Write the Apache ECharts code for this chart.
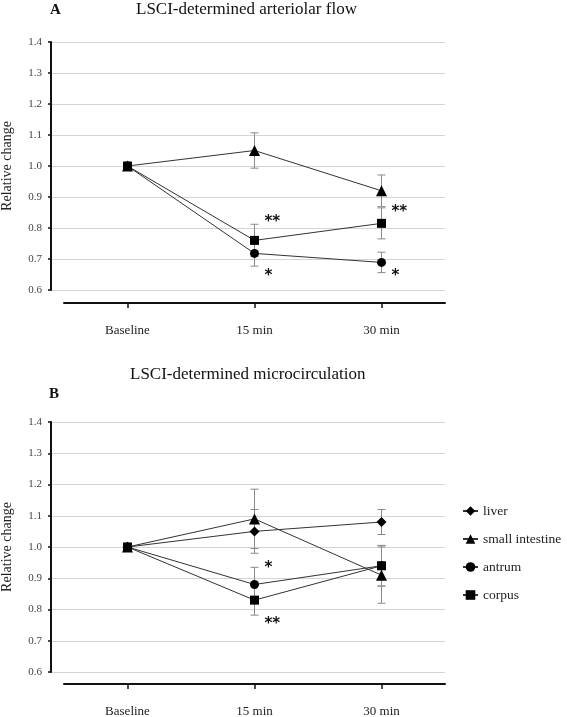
<!DOCTYPE html>
<html><head><meta charset="utf-8">
<script src="https://cdn.jsdelivr.net/npm/echarts@6/dist/echarts.min.js"></script>
<style>html,body{margin:0;padding:0;background:#fff}#c{width:567px;height:717px}</style>
</head><body><div id="c"></div>
<script>
// ---- data ----
var categories = ['Baseline', '15 min', '30 min'];
var yTicks = [0.6, 0.7, 0.8, 0.9, 1.0, 1.1, 1.2, 1.3, 1.4];

// Panel A: LSCI-determined arteriolar flow
var aSmallIntestine = [1.0, 1.05, 0.92];
var aSmallIntestineErr = [0, 0.057, 0.051];
var aAntrum = [1.0, 0.718, 0.689];
var aAntrumErr = [0, 0.041, 0.033];
var aCorpus = [1.0, 0.76, 0.815];
var aCorpusErr = [0, 0.052, 0.05];
var aStars = [['15 min', 0.832, '**'], ['15 min', 0.658, '*'], ['30 min', 0.865, '**'], ['30 min', 0.658, '*']];

// Panel B: LSCI-determined microcirculation
var bLiver = [1.0, 1.05, 1.08];
var bLiverErr = [0, 0.07, 0.04];
var bSmallIntestine = [1.0, 1.09, 0.91];
var bSmallIntestineErr = [0, 0.095, 0.09];
var bAntrum = [1.0, 0.88, 0.94];
var bAntrumErr = [0, 0.055, 0.065];
var bCorpus = [1.0, 0.83, 0.94];
var bCorpusErr = [0, 0.048, 0.065];
var bStars = [['15 min', 0.946, '*'], ['15 min', 0.766, '**']];

// ---- chart ----
var FONT = '"Liberation Serif", "DejaVu Serif", serif';
var chart = echarts.init(document.getElementById('c'), null, {renderer: 'canvas'});

function yAxisVisible(gi) {
  return {
    gridIndex: gi, type: 'value', min: yTicks[0], max: yTicks[yTicks.length - 1], interval: 0.1,
    name: 'Relative change', nameLocation: 'middle', nameGap: 37,
    nameTextStyle: {fontFamily: FONT, fontSize: 14, color: '#222'},
    axisLine: {show: true, lineStyle: {color: '#111', width: 2}},
    axisTick: {show: true, length: 3, lineStyle: {color: '#111', width: 1.5}},
    axisLabel: {fontFamily: FONT, fontSize: 11, color: '#444', margin: 9,
      formatter: function (v) { return v.toFixed(1); }},
    splitLine: {show: true, lineStyle: {color: '#d4d4d4', width: 1}}
  };
}
function yAxisHidden(gi) {
  return {gridIndex: gi, type: 'value', min: yTicks[0], max: yTicks[yTicks.length - 1], interval: 0.1, show: false};
}
function xAxisHidden(gi) {
  return {gridIndex: gi, type: 'value', min: 0, max: 1, show: false};
}
function xAxisCat(gi, off) {
  return {
    gridIndex: gi, type: 'category', data: categories, offset: off,
    axisLine: {show: true, lineStyle: {color: '#111', width: 2}},
    axisTick: {show: true, alignWithLabel: true, length: 5, lineStyle: {color: '#111', width: 1.5}},
    axisLabel: {fontFamily: FONT, fontSize: 13, color: '#222', margin: 21},
    splitLine: {show: false}
  };
}

function lineSeries(name, data, symbol, size, xi) {
  return {
    name: name, type: 'line', xAxisIndex: xi, yAxisIndex: xi, data: data,
    symbol: symbol, symbolSize: size, z: 5,
    itemStyle: {color: '#000'},
    lineStyle: {color: '#333', width: 1},
    emphasis: {disabled: true}, animation: false
  };
}
function errSeries(vals, errs, xi) {
  var d = [];
  for (var i = 0; i < vals.length; i++) {
    if (errs[i] > 0) d.push([i, vals[i] - errs[i], vals[i] + errs[i]]);
  }
  return {
    type: 'custom', xAxisIndex: xi, yAxisIndex: xi, data: d, z: 3, silent: true, animation: false,
    renderItem: function (params, api) {
      var lo = api.coord([api.value(0), api.value(1)]);
      var hi = api.coord([api.value(0), api.value(2)]);
      var w = 4;
      var st = {stroke: '#8a8a8a', lineWidth: 1};
      return {type: 'group', children: [
        {type: 'line', shape: {x1: lo[0], y1: lo[1], x2: hi[0], y2: hi[1]}, style: st},
        {type: 'line', shape: {x1: lo[0] - w, y1: lo[1], x2: lo[0] + w, y2: lo[1]}, style: st},
        {type: 'line', shape: {x1: hi[0] - w, y1: hi[1], x2: hi[0] + w, y2: hi[1]}, style: st}
      ]};
    }
  };
}
function starSeries(data, xi) {
  return {
    type: 'custom', xAxisIndex: xi, yAxisIndex: xi, data: data, z: 6, silent: true, animation: false,
    renderItem: function (params, api) {
      var p = api.coord([api.value(0), api.value(1)]);
      return {type: 'text', x: p[0] + 10, y: p[1] + 4,
        style: {text: data[params.dataIndex][2], fontFamily: '"DejaVu Sans", sans-serif', fontSize: 15,
          fontWeight: 'bold', fill: '#111', align: 'left', verticalAlign: 'middle'}};
    }
  };
}

var option = {
  backgroundColor: '#fff',
  animation: false,
  title: [
    {text: 'A', left: 50, top: 3, padding: 0, textStyle: {fontFamily: FONT, fontWeight: 'bold', fontSize: 15, color: '#111'}},
    {text: 'LSCI-determined arteriolar flow', left: 136, top: 1, padding: 0, textStyle: {fontFamily: FONT, fontWeight: 'normal', fontSize: 17, color: '#111'}},
    {text: 'LSCI-determined microcirculation', left: 130, top: 366, padding: 0, textStyle: {fontFamily: FONT, fontWeight: 'normal', fontSize: 17, color: '#111'}},
    {text: 'B', left: 49, top: 387, padding: 0, textStyle: {fontFamily: FONT, fontWeight: 'bold', fontSize: 15, color: '#111'}}
  ],
  legend: {
    data: ['liver', 'small intestine', 'antrum', 'corpus'],
    orient: 'vertical', left: 457, top: 499, itemWidth: 15, itemHeight: 12, itemGap: 14,
    textStyle: {fontFamily: FONT, fontSize: 13.5, color: '#222', padding: [0, 0, 0, 0]},
    selectedMode: false
  },
  grid: [
    {left: 51, top: 42, width: 394, height: 248, outerBoundsMode: 'none'},
    {left: 64, top: 42, width: 381, height: 248, outerBoundsMode: 'none'},
    {left: 51, top: 422, width: 394, height: 250, outerBoundsMode: 'none'},
    {left: 64, top: 422, width: 381, height: 250, outerBoundsMode: 'none'}
  ],
  xAxis: [xAxisHidden(0), xAxisCat(1, 13), xAxisHidden(2), xAxisCat(3, 12)],
  yAxis: [yAxisVisible(0), yAxisHidden(1), yAxisVisible(2), yAxisHidden(3)],
  series: [
    errSeries(aSmallIntestine, aSmallIntestineErr, 1),
    errSeries(aAntrum, aAntrumErr, 1),
    errSeries(aCorpus, aCorpusErr, 1),
    lineSeries('small intestine', aSmallIntestine, 'triangle', 11, 1),
    lineSeries('antrum', aAntrum, 'circle', 9, 1),
    lineSeries('corpus', aCorpus, 'rect', 9, 1),
    starSeries(aStars, 1),

    errSeries(bLiver, bLiverErr, 3),
    errSeries(bSmallIntestine, bSmallIntestineErr, 3),
    errSeries(bAntrum, bAntrumErr, 3),
    errSeries(bCorpus, bCorpusErr, 3),
    lineSeries('liver', bLiver, 'diamond', 10, 3),
    lineSeries('small intestine', bSmallIntestine, 'triangle', 11, 3),
    lineSeries('antrum', bAntrum, 'circle', 9, 3),
    lineSeries('corpus', bCorpus, 'rect', 9, 3),
    starSeries(bStars, 3)
  ]
};
chart.setOption(option);
</script>
</body></html>
